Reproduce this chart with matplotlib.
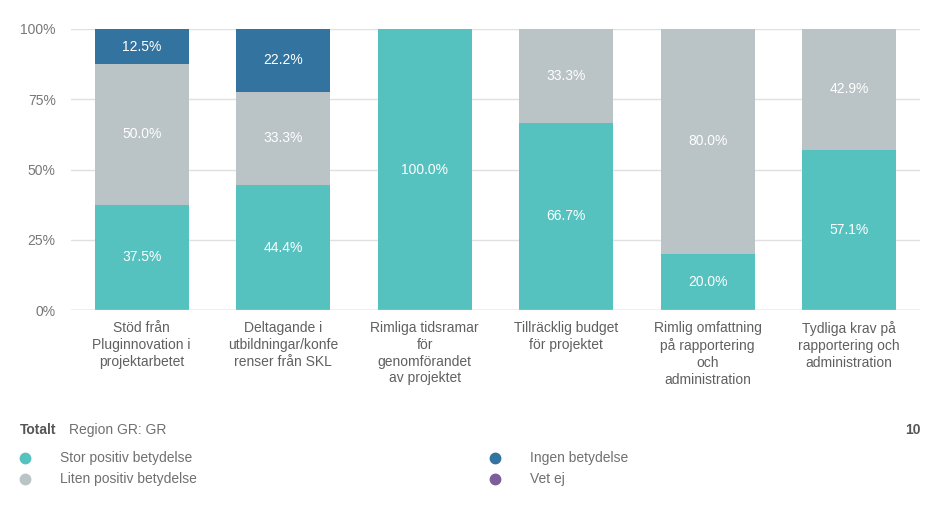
import numpy as np
import matplotlib.pyplot as plt

plt.rcParams['font.family'] = ['Liberation Sans', 'DejaVu Sans']

categories = ["Stöd från\nPluginnovation i\nprojektarbetet",
              "Deltagande i\nutbildningar/konfe\nrenser från SKL",
              "Rimliga tidsramar\nför\ngenomförandet\nav projektet",
              "Tillräcklig budget\nför projektet",
              "Rimlig omfattning\npå rapportering\noch\nadministration",
              "Tydliga krav på\nrapportering och\nadministration"]
stor = [37.5, 44.4, 100.0, 66.7, 20.0, 57.1]
liten = [50.0, 33.3, 0.0, 33.3, 80.0, 42.9]
ingen = [12.5, 22.2, 0.0, 0.0, 0.0, 0.0]
vetej = [0.0, 0.0, 0.0, 0.0, 0.0, 0.0]
series_names = ["Stor positiv betydelse", "Liten positiv betydelse", "Ingen betydelse", "Vet ej"]
colors = ["#56c2bf", "#bac3c5", "#3273a0", "#7b5e9a"]

fig = plt.figure(figsize=(9.42, 5.07), dpi=100)
ax = fig.add_axes([71/942, 1-310/507, (920-71)/942, (310-29)/507])

x = np.arange(len(categories))
bottom = np.zeros(len(categories))
for vals, c in zip([stor, liten, ingen, vetej], colors):
    vals = np.array(vals)
    ax.bar(x, vals, 0.665, bottom=bottom, color=c, zorder=2)
    for xi, v, b in zip(x, vals, bottom):
        if v > 0:
            ax.text(xi, b + v/2, "%.1f%%" % v, ha='center', va='center',
                    color='white', fontsize=10)
    bottom += vals

ax.set_xlim(-0.5, 5.5)
ax.set_ylim(0, 100)
ax.set_yticks([0, 25, 50, 75, 100])
ax.set_yticklabels(["0%", "25%", "50%", "75%", "100%"])
ax.yaxis.grid(True, color='#e0e0e0', linewidth=1, zorder=0)
for s in ax.spines.values():
    s.set_visible(False)
ax.tick_params(axis='y', length=0, pad=11, labelcolor='#777777', labelsize=10)
ax.tick_params(axis='x', length=0, pad=8, labelcolor='#606060', labelsize=10)
ax.set_xticks(x)
ax.set_xticklabels(categories, linespacing=1.25)
ax.axhline(0, color='#cccccc', linewidth=1, zorder=3)

# legend / footer
fig.text(20/942, 1-430/507, "Totalt", fontsize=10, fontweight='bold', color='#555555', va='center')
fig.text(69/942, 1-430/507, "Region GR: GR", fontsize=10, color='#707070', va='center')
fig.text(921/942, 1-430/507, "10", fontsize=10, fontweight='bold', color='#555555', va='center', ha='right')
pos = [(25, 458, 60), (25, 479, 60), (495, 458, 530), (495, 479, 530)]
for (mx, my, tx), name, c in zip(pos, series_names, colors):
    fig.lines.append(plt.Line2D([mx/942], [1-my/507], marker='o', markersize=7.5,
                                color=c, transform=fig.transFigure))
    fig.text(tx/942, 1-my/507, name, fontsize=10, color='#707070', va='center')

fig.savefig("out.png", dpi=100)
